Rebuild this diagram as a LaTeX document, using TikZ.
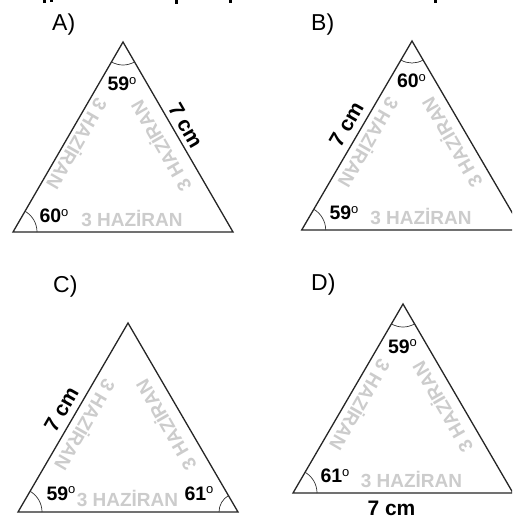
\documentclass[tikz,border=0pt]{standalone}
\usepackage{fontspec}
\setmainfont{Liberation Sans}
\tikzset{
 tri/.style={draw=black!85, line width=1.3pt, line join=miter},
 angarc/.style={draw=black!80, line width=0.7pt},
 anglab/.style={inner sep=0pt, text height=14pt, text depth=0pt, font=\bfseries\fontsize{19.5}{20}\selectfont},
 cmlab/.style={inner sep=0pt, text height=15pt, text depth=0pt, font=\bfseries\fontsize{21}{22}\selectfont},
 wmark/.style={inner sep=0pt, text height=14pt, text depth=0pt, text=black!20, font=\bfseries\fontsize{19}{20}\selectfont},
 optlab/.style={inner sep=0pt, anchor=base west, font=\fontsize{23}{24}\selectfont},
 cutmark/.style={fill=black},
}
\newcommand\degsym[1]{#1\raisebox{6.5pt}{\fontsize{13}{13}\selectfont\mdseries o}}
\newcommand\wmtext{3 HAZİRAN}
\begin{document}
\begin{tikzpicture}[x=1pt,y=-1pt]
\useasboundingbox (0,0) rectangle (512,516);
\clip (0,0) rectangle (512,516);
\fill[white] (0,0) rectangle (512,516);
% cropped text fragments at top edge
\fill[cutmark] (43,0) rectangle (46,3.5);
\fill[cutmark] (50,0) rectangle (53,2.5);
\fill[cutmark] (175,0) rectangle (178,4);
\fill[cutmark] (229,0) rectangle (232,3.5);
\fill[cutmark] (434,0) rectangle (437,3);

% ---------- A ----------
\coordinate (aT) at (123,42);
\coordinate (aL) at (13,232);
\coordinate (aR) at (233,232);
\node[optlab] (aLab) at (52,31) {A)};
\node[wmark] (aW1) at (132,219) {\wmtext};
\node[wmark, rotate=240] (aW2) at (77,144) {\wmtext};
\node[wmark, rotate=120] (aW3) at (161,146) {\wmtext};
\draw[tri] (aT) -- (aL) -- (aR) -- cycle;
\draw[angarc] ([shift={(240:23pt)}]aT) arc[start angle=240,end angle=300,radius=23pt];
\draw[angarc] ([shift={(0:24pt)}]aL) arc[start angle=0,end angle=60,radius=24pt];
\node[anglab] (aA1) at (122,84) {\degsym{59}};
\node[anglab] (aA2) at (54,215.5) {\degsym{60}};
\node[cmlab, rotate=-60] (aS) at (186,125) {7 cm};

% ---------- B ----------
\coordinate (bT) at (412,41);
\coordinate (bL) at (301.7,230);
\coordinate (bR) at (522.3,230);
\node[optlab] (bLab) at (311,31) {B)};
\node[wmark] (bW1) at (421,217) {\wmtext};
\node[wmark, rotate=240] (bW2) at (368.5,142.5) {\wmtext};
\node[wmark, rotate=120] (bW3) at (452,142.5) {\wmtext};
\draw[tri] (bT) -- (bL) -- (bR) -- cycle;
\draw[angarc] ([shift={(240:22pt)}]bT) arc[start angle=240,end angle=300,radius=22pt];
\draw[angarc] ([shift={(0:24pt)}]bL) arc[start angle=0,end angle=60,radius=24pt];
\node[anglab] (bA1) at (411.5,81) {\degsym{60}};
\node[anglab] (bA2) at (344,212.5) {\degsym{59}};
\node[cmlab, rotate=60] (bS) at (346,124.5) {7 cm};

% ---------- C ----------
\coordinate (cT) at (128,323);
\coordinate (cL) at (18,512);
\coordinate (cR) at (238,512);
\node[optlab] (cLab) at (53,292) {C)};
\node[wmark] (cW1) at (127.5,499) {\wmtext};
\node[wmark, rotate=240] (cW2) at (85,425) {\wmtext};
\node[wmark, rotate=120] (cW3) at (166,425) {\wmtext};
\draw[tri] (cT) -- (cL) -- (cR) -- cycle;
\draw[angarc] ([shift={(0:24pt)}]cL) arc[start angle=0,end angle=60,radius=24pt];
\draw[angarc] ([shift={(120:19pt)}]cR) arc[start angle=120,end angle=180,radius=19pt];
\node[anglab] (cA1) at (61,493) {\degsym{59}};
\node[anglab] (cA2) at (199,493) {\degsym{61}};
\node[cmlab, rotate=60] (cS) at (61,409) {7 cm};

% ---------- D ----------
\coordinate (dT) at (403,304);
\coordinate (dL) at (293,493);
\coordinate (dR) at (513,493);
\node[optlab] (dLab) at (311,290) {D)};
\node[wmark] (dW1) at (411.5,480) {\wmtext};
\node[wmark, rotate=240] (dW2) at (360,405) {\wmtext};
\node[wmark, rotate=120] (dW3) at (442.5,407) {\wmtext};
\draw[tri] (dT) -- (dL) -- (dR) -- cycle;
\draw[angarc] ([shift={(240:23pt)}]dT) arc[start angle=240,end angle=300,radius=23pt];
\draw[angarc] ([shift={(0:24pt)}]dL) arc[start angle=0,end angle=60,radius=24pt];
\node[anglab] (dA1) at (402.5,346) {\degsym{59}};
\node[anglab] (dA2) at (335,475.5) {\degsym{61}};
\node[cmlab] (dS) at (391.5,507.5) {7 cm};
\end{tikzpicture}
\end{document}
